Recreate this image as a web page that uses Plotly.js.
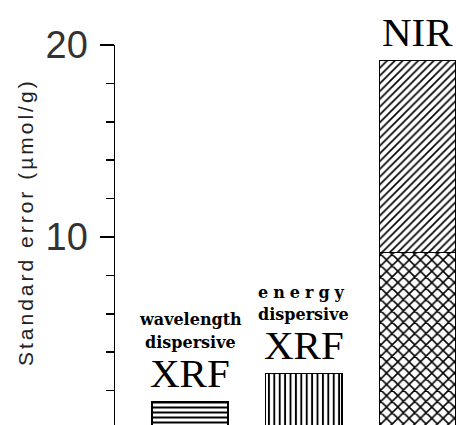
<!DOCTYPE html>
<html><head><meta charset="utf-8">
<script src="https://cdn.plot.ly/plotly-3.0.1.min.js"></script>
<style>html,body{margin:0;padding:0;background:#fff}</style>
</head><body>
<div id="chart" style="width:456px;height:425px"></div>
<script>
const categories = ['wavelength dispersive XRF', 'energy dispersive XRF', 'NIR'];
const xrfErrors = [1.4, 2.9];
const nirParts = [9.2, 10.0];
const yTicks = [10, 20];
const yTickLabels = ['10', '20'];

const line = {color: 'black', width: 1.5};
function pat(shape, size, solidity) {
  return {shape: shape, size: size, solidity: solidity, fgcolor: 'black', bgcolor: 'white', fgopacity: 1};
}
const traces = [
  {type: 'bar', x: [categories[0]], y: [xrfErrors[0]], marker: {color: 'white', line: line, pattern: pat('-', 5, 0.4)}},
  {type: 'bar', x: [categories[1]], y: [xrfErrors[1]], marker: {color: 'white', line: line, pattern: pat('|', 5.4, 0.35)}},
  {type: 'bar', x: [categories[2]], y: [nirParts[0]], marker: {color: 'white', line: line, pattern: pat('x', 8, 0.35)}},
  {type: 'bar', x: [categories[2]], y: [nirParts[1]], marker: {color: 'white', line: line, pattern: pat('/', 5.5, 0.3)}}
];
const serif = 'Liberation Serif, Times New Roman, serif';
const small = {family: 'DejaVu Serif, serif', size: 16, color: 'black', weight: 'bold'};
const big = {family: serif, size: 41, color: 'black'};
// positions in paper units (0 = bottom of plot area, 1 = top)
function ann(x, y, text, font) {
  return {xref: 'x', yref: 'paper', x: x, y: y, text: text, font: font, showarrow: false, xanchor: 'center', yanchor: 'middle'};
}
const annotations = [
  ann(0, 0.278, 'wavelength', small),
  ann(0, 0.218, 'dispersive', small),
  ann(0, 0.137, 'XRF', big),
  ann(1, 0.350, '<span style="letter-spacing:5px">energy</span>', small),
  ann(1, 0.290, 'dispersive', small),
  ann(1, 0.210, 'XRF', big),
  ann(2, 1.034, 'NIR', {family: serif, size: 41, color: 'black'}),
  {xref: 'paper', yref: 'paper', x: -0.264, y: 0.534, text: '<span style="letter-spacing:3px">Standard error (µmol/g)</span>',
   textangle: -90, showarrow: false, xanchor: 'center', yanchor: 'middle',
   font: {family: 'Liberation Sans, Arial, sans-serif', size: 21, color: '#222'}}
];
const layout = {
  width: 456, height: 425,
  margin: {l: 115, r: 0, t: 45, b: 0},
  paper_bgcolor: 'white', plot_bgcolor: 'white',
  showlegend: false, barmode: 'stack', bargap: 0.33,
  xaxis: {type: 'category', range: [-0.66, 2.34], visible: false, fixedrange: true},
  yaxis: {range: [0.21, 20], showgrid: false, zeroline: false, showline: true, linecolor: 'black', linewidth: 1.5,
    ticks: 'outside', ticklen: 14, tickwidth: 1.5, tickcolor: 'black',
    tickvals: yTicks, ticktext: yTickLabels, ticklabelstandoff: 4,
    tickfont: {family: 'Liberation Sans, Arial, sans-serif', size: 38, color: '#333', weight: 300},
    minor: {dtick: 2, ticks: 'outside', ticklen: 8, tickwidth: 1.5, tickcolor: 'black', showgrid: false}
  },
  annotations: annotations
};
Plotly.newPlot('chart', traces, layout, {staticPlot: true, displayModeBar: false});
</script>
</body></html>
